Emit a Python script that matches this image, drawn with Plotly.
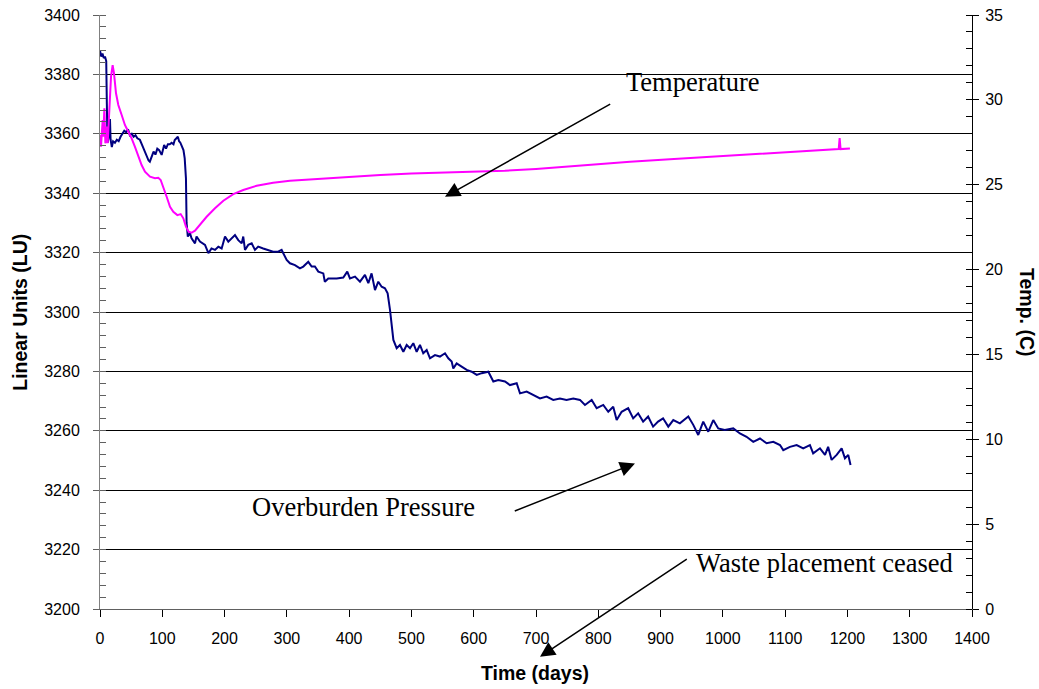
import plotly.graph_objects as go

# ---- Overburden pressure (Linear Units, left axis) ----
p_days = [0, 2, 4, 6, 8, 10, 11, 12, 14, 16, 17, 19, 21, 24, 27, 30, 33, 36, 39, 42,
          45, 48, 51, 54, 57, 60, 64, 67, 70, 73, 75, 78, 80, 83, 86, 89, 92, 95, 99, 103,
          106, 109, 112, 115, 118, 120, 123, 125, 127, 129, 131, 134, 136, 138, 139, 141,
          144.5, 147, 152.5, 155, 160.5, 168.6, 174, 179, 184.6, 190, 195.3, 200.7, 206, 211.4,
          216.7, 222, 227.5, 230, 232.8, 238, 243.5, 248.8, 254, 262, 270, 278, 286, 291.6,
          299.7, 305, 313, 321, 326.4, 334.4, 339.8, 345, 350.5, 358.5, 361, 366.5, 380, 390.6,
          397, 401.3, 409.4, 417.4, 425.4, 430.8, 436, 441.5, 446.8, 452.2, 457.5, 461.8, 465.6,
          468.3, 471, 476.3, 481.6, 487, 492.4, 497.7, 503, 508.4, 513.7, 519, 524.5, 529.8,
          537.8, 545.8, 553.9, 559.2, 564.6, 567.2, 572.6, 580.6, 588.7, 596.7, 604.8, 612.8,
          623.5, 631.5, 639.5, 650.2, 658.2, 669, 674.3, 685, 695.6, 706.4, 717, 727.7, 738.5,
          749, 759.8, 770.6, 778.6, 789.4, 797.4, 808, 816, 824, 829.5, 837.5, 848, 856, 864,
          872, 880, 888, 896, 904, 912.4, 920.4, 931, 944.5, 952.5, 960.5, 968.5, 976.6, 984.6,
          992.6, 1003, 1016.7, 1027.4, 1038, 1048.8, 1059.6, 1070.3, 1081, 1091.7, 1097, 1107.7,
          1118.5, 1129, 1139.8, 1145, 1155.9, 1164, 1169, 1174.6, 1182.7, 1190.7, 1196, 1201.3,
          1205]
p_lu = [3388, 3386, 3387, 3385.5, 3386, 3384.5, 3370, 3357, 3359, 3365, 3358, 3355.5, 3357.5, 3357, 3358, 3357.5, 3359, 3360, 3361, 3360.5,
        3361.5, 3359.5, 3360, 3359, 3359.5, 3358.5, 3358, 3356.5, 3355, 3353.5, 3352, 3351, 3350.6, 3352.5, 3354, 3353, 3355, 3354.5, 3352.9, 3356.2,
        3355, 3356.5, 3356.5, 3357, 3356.5, 3357.9, 3358.5, 3359, 3357.5, 3357, 3356, 3354.5, 3351.7, 3345, 3330, 3325.4,
        3326.5, 3324.8, 3323.1, 3325.4, 3323.7, 3322.6, 3319.8, 3321.4, 3320.9, 3322, 3321.4, 3325.4, 3323.7, 3324.8,
        3325.9, 3324.2, 3323.1, 3325.4, 3320.9, 3322.6, 3323.1, 3320.9, 3322, 3321.4, 3320.9, 3320.3, 3320.3, 3320.9,
        3317.5, 3316.4, 3315.8, 3314.7, 3315.3, 3316.9, 3315.3, 3315.3, 3313.6, 3313.0, 3310.2, 3311.3, 3311.3, 3311.6,
        3313.6, 3311.3, 3311.9, 3310.2, 3312.5, 3309.7, 3313, 3307.4, 3310.2, 3308.5, 3308.0, 3306.3, 3300.7,
        3295.0, 3290.6, 3287.8, 3288.9, 3286.6, 3288.9, 3287.8, 3289.5, 3286.6, 3288.9, 3286.1, 3287.2, 3284.4,
        3285.5, 3285, 3286.1, 3284.4, 3283.3, 3281, 3282.7, 3281.6, 3280.5, 3279.9, 3278.8, 3279.4,
        3279.9, 3276.6, 3277.1, 3276.6, 3275.4, 3276.0, 3272.6, 3273.2, 3272.1, 3270.9, 3271.5, 3270.4, 3270.9,
        3270.4, 3270.9, 3270.4, 3268.7, 3270.4, 3267.6, 3268.7, 3266.4, 3268.1, 3263.6, 3266.4, 3267.6, 3264.2, 3265.9,
        3263.1, 3264.8, 3261.4, 3263.1, 3264.2, 3261.4, 3263.6, 3262.5, 3264.8, 3262, 3258.6, 3263.1, 3259.7, 3263.6,
        3260.8, 3260.3, 3260.8, 3259.1, 3258, 3256.3, 3257.4, 3255.8, 3256.3, 3255.2, 3253.5, 3254.6,
        3255.2, 3254.1, 3255.2, 3252.4, 3254.1, 3251.9, 3254.6, 3250.2, 3251.9, 3254.1, 3250.7, 3251.9,
        3248.5]

# ---- Temperature (deg C, right axis) ----
t_days = [0, 1.6, 4.3, 5.3, 7, 8.6, 10.7, 12.3, 15, 17.7, 20.3, 22.5, 25.7, 29.4, 34.8, 40, 45.5,
          50.8, 56, 61.5, 66.8, 72.2, 80.3, 88.3, 93.6, 97.4, 101.7, 107, 112.4, 117.7, 124.2,
          129.5, 133.8, 138, 142.3, 147, 152.5, 160.5, 171.2, 184.6, 198, 214, 230, 251.5, 278,
          305, 350, 400, 450, 500, 550, 610, 650, 700, 755, 800, 851, 915, 950, 1000, 1050,
          1076, 1100, 1150, 1186, 1187.5, 1189, 1204]
t_c = [27.93, 27.24, 28.81, 27.83, 29.5, 27.44, 28.42, 27.44, 29.4, 31.37, 32.05, 31.56, 30.39, 29.7, 29.11, 28.52, 28.12,
       27.73, 27.24, 26.65, 26.16, 25.77, 25.47, 25.38, 25.41, 25.28, 24.88, 24.29, 23.7, 23.41, 23.21,
       23.27, 23.02, 22.53, 22.23, 22.17, 22.29, 22.63, 23.11, 23.61, 24.06, 24.45, 24.69, 24.94, 25.12,
       25.24, 25.35, 25.46, 25.57, 25.66, 25.72, 25.77, 25.82, 25.93, 26.1, 26.2, 26.36, 26.5, 26.58, 26.69, 26.8,
       26.85, 26.92, 27.02, 27.1, 27.75, 27.1, 27.14]

x_ticks = list(range(0, 1401, 100))

fig = go.Figure()
fig.add_trace(go.Scatter(x=p_days, y=p_lu, mode="lines", name="Overburden Pressure",
                         line=dict(color="#000080", width=2), yaxis="y"))
fig.add_trace(go.Scatter(x=t_days, y=t_c, mode="lines", name="Temperature",
                         line=dict(color="#FF00FF", width=2), yaxis="y2"))

tick_font = dict(family="Liberation Sans, Arial", size=16, color="black")
fig.update_layout(
    width=1039, height=689,
    margin=dict(l=100, r=67, t=15, b=80, autoexpand=False),
    paper_bgcolor="white", plot_bgcolor="white",
    showlegend=False,
    xaxis=dict(range=[0, 1400], tickvals=x_ticks, ticks="outside", ticklen=7, tickcolor="black",
               showline=True, linecolor="#606060", linewidth=1, showgrid=False, zeroline=False,
               tickfont=tick_font, ticklabelstandoff=8, automargin=False),
    yaxis=dict(range=[3200, 3400], dtick=20, ticks="outside", ticklen=6, tickcolor="#606060",
               showline=True, linecolor="#808080", linewidth=1, showgrid=True,
               gridcolor="black", gridwidth=1, zeroline=False, tickfont=tick_font,
               ticklabelstandoff=10, automargin=False,
               minor=dict(dtick=4, ticks="inside", ticklen=6, tickcolor="#606060", showgrid=False)),
    yaxis2=dict(range=[0, 35], dtick=5, overlaying="y", side="right", ticks="outside", ticklen=6,
                tickcolor="black", showline=True, linecolor="black", linewidth=1, showgrid=False,
                zeroline=False, tickfont=tick_font, ticklabelstandoff=3, automargin=False,
                minor=dict(dtick=1, ticks="inside", ticklen=6, tickcolor="black", showgrid=False)),
)

serif = dict(family="Liberation Serif, Times New Roman", size=26.5, color="black")
bold = dict(family="Liberation Sans, Arial", size=19.5, color="black")

annotations = [
    # axis titles
    dict(text="<b>Linear Units (LU)</b>", xref="paper", yref="paper", x=-0.092, y=0.5,
         textangle=-90, showarrow=False, font=bold, xanchor="center", yanchor="middle"),
    dict(text="<b>Time (days)</b>", xref="paper", yref="paper", x=0.499, y=-0.108,
         showarrow=False, font=bold, xanchor="center", yanchor="middle"),
    dict(text="<b>Temp. (C)</b>", xref="paper", yref="paper", x=1.063, y=0.5,
         textangle=90, showarrow=False, font=bold, xanchor="center", yanchor="middle"),
    # labels
    dict(text="Temperature", x=841, y=3377.3, xref="x", yref="y", showarrow=False,
         font=serif, xanchor="left", yanchor="middle"),
    dict(text="Overburden Pressure", x=241, y=3234.3, xref="x", yref="y", showarrow=False,
         font=serif, xanchor="left", yanchor="middle"),
    dict(text="Waste placement ceased", x=953, y=3215.5, xref="x", yref="y", showarrow=False,
         font=serif, xanchor="left", yanchor="middle"),
    # arrows
    dict(text="", x=553.9, y=3338.8, ax=821.5, ay=3370.3, xref="x", yref="y", axref="x", ayref="y",
         showarrow=True, arrowhead=2, arrowsize=2, arrowwidth=1.5, arrowcolor="black"),
    dict(text="", x=858.9, y=3249.0, ax=663.5, ay=3232.8, xref="x", yref="y", axref="x", ayref="y",
         showarrow=True, arrowhead=2, arrowsize=2, arrowwidth=1.5, arrowcolor="black"),
    dict(text="", x=706.4, y=3183.9, ax=944.5, ay=3217.1, xref="x", yref="y", axref="x", ayref="y",
         showarrow=True, arrowhead=2, arrowsize=2, arrowwidth=1.5, arrowcolor="black"),
]
fig.update_layout(annotations=annotations)

fig.write_html("out.html")
